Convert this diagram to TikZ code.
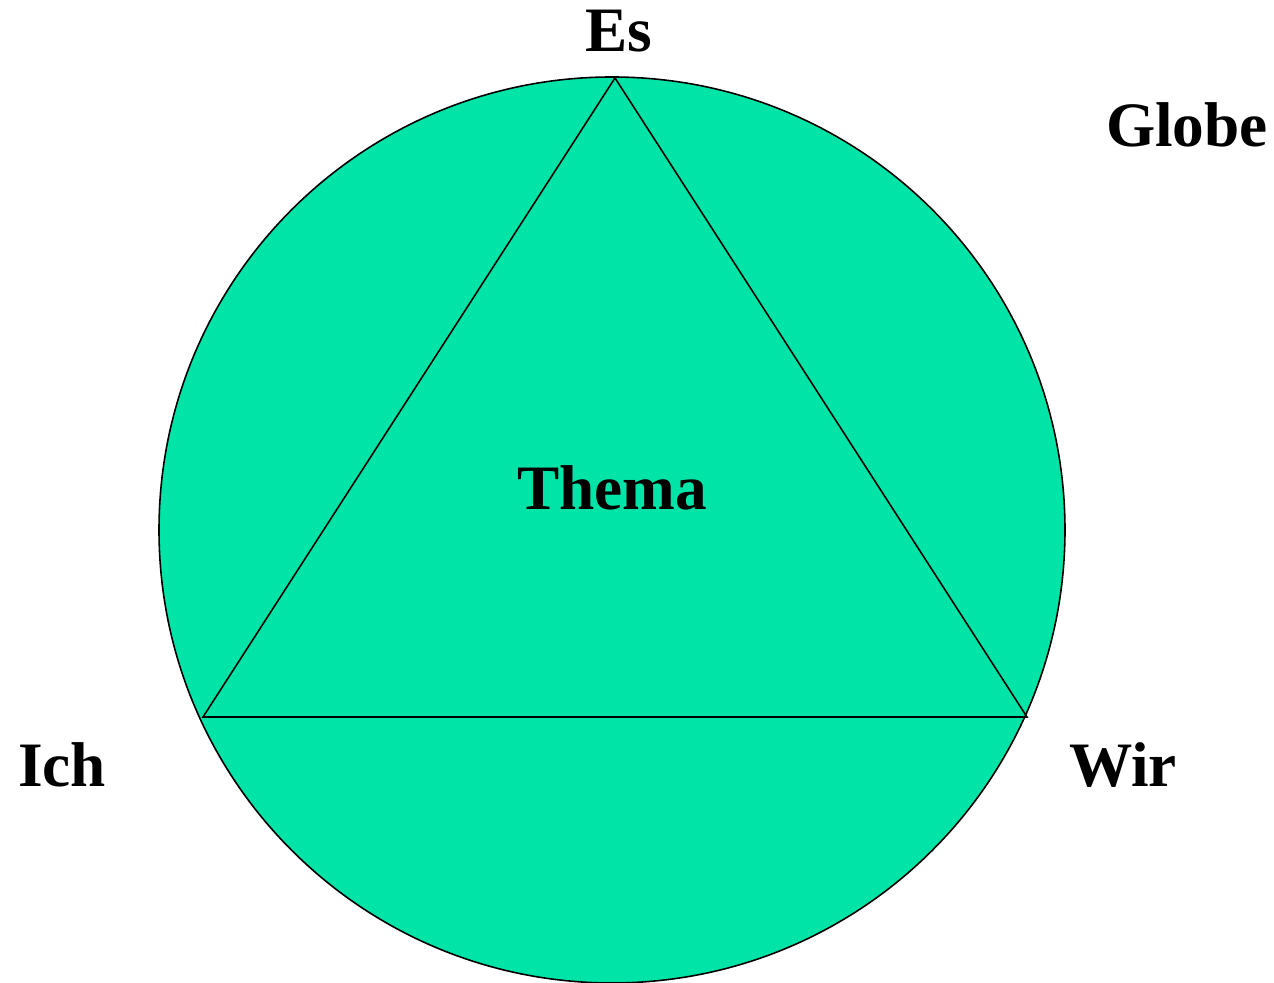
\documentclass[tikz,border=0pt]{standalone}
\usepackage{fontspec}
\setmainfont{Liberation Serif}
\usepackage{tikz}
\usetikzlibrary{positioning}
\definecolor{cglobe}{RGB}{0,228,168}

\begin{document}
\begin{tikzpicture}[
  font=\fontsize{36}{40}\selectfont\bfseries,
  lbl/.style={inner sep=0pt,anchor=base},
  edge/.style={draw=black,line width=0.9pt},
]
\useasboundingbox (0,0) rectangle (25.48,19.66);
% globe and triangle
\coordinate (centre) at (12.24,9.06);
\fill[cglobe] (centre) circle (9.06);
\coordinate (top)   at (12.30,18.10);
\coordinate (left)  at (4.06,5.32);
\coordinate (right) at (20.54,5.32);
\draw[edge,line join=miter] (top) -- (left) -- (right) -- cycle;
\draw[edge] (centre) circle (9.06);
% labels
\node[lbl] (es)    at (12.38,18.62) {Es};
\node[lbl] (thema) at (12.24,9.46)  {Thema};
\node[lbl] (ich)   at (1.24,3.92)   {Ich};
\node[lbl] (wir)   at (22.46,3.92)  {Wir};
\node[lbl] (globe) at (23.74,16.72) {Globe};
\end{tikzpicture}
\end{document}
